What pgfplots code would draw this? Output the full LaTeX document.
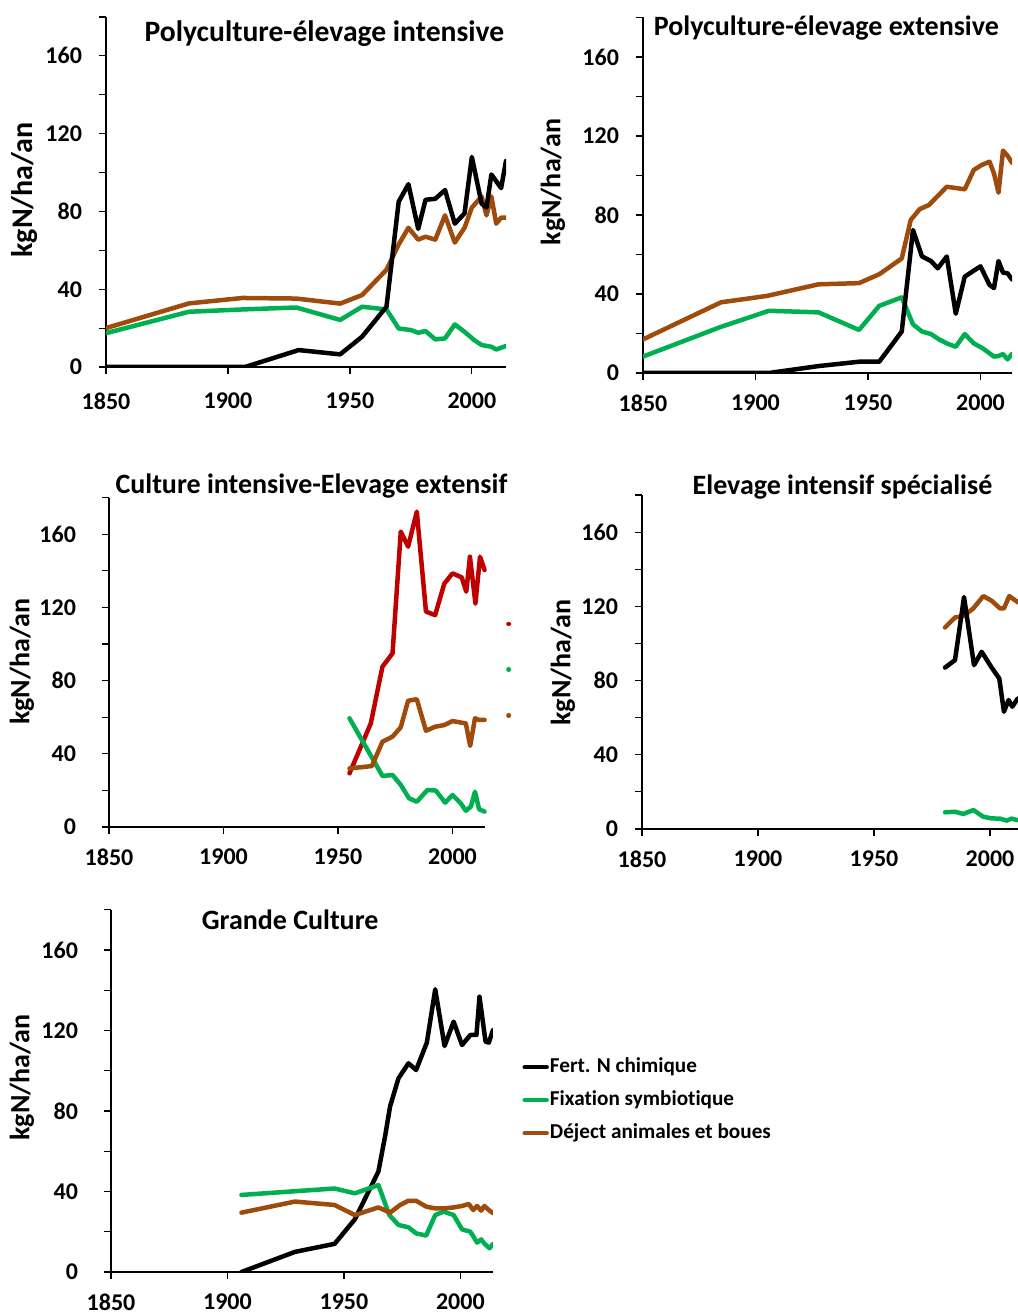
\documentclass[border=0pt]{standalone}
\usepackage{fontspec}
\setmainfont{Carlito}[Ligatures=NoCommon]
\usepackage{pgfplots}
\pgfplotsset{compat=1.18}
\definecolor{cgreen}{RGB}{0,176,80}
\definecolor{cbrown}{RGB}{158,75,12}
\definecolor{cred}{RGB}{192,0,0}
\pgfplotsset{
 panel/.style={
  scale only axis, xmin=1850, xmax=2014, ymin=0, ymax=180,
  axis lines=left, axis line style={-, line width=1pt},
  xtick={1850,1900,1950,2000}, ytick={0,40,...,160}, minor ytick={20,60,...,180},
  tick align=outside, major tick length=3.5pt, minor tick length=3.5pt,
  every tick/.style={line width=0.6pt, black},
  minor tick style={line width=0.6pt, black},
  xticklabel style={yshift=-4pt}, yticklabel style={xshift=-5pt},
  tick label style={font=\bfseries\fontsize{12}{14}\selectfont},
  /pgf/number format/assume math mode=true, /pgf/number format/1000 sep={},
  ylabel={kgN/ha/an},
  label style={font=\bfseries\fontsize{14}{16}\selectfont},
  every axis title shift=0pt,
  title style={font=\bfseries\fontsize{14}{16}\selectfont, anchor=center},
 },
 ser/.style={line width=2.25pt, line join=round, line cap=round, no markers},
 fert/.style={ser, black},
 fix/.style={ser, cgreen},
 dej/.style={ser, cbrown},
}
\begin{document}
\begin{tikzpicture}
\useasboundingbox (0,0) rectangle (509pt,656.5pt);
\clip (0,0) rectangle (509pt,656.5pt);

% Panel 1
\begin{axis}[panel, at={(53pt,473pt)}, anchor=south west, width=200pt, height=175pt,
  xticklabel style={yshift=-2pt},
  title={Polyculture-élevage intensive}, title style={at={(axis description cs:0.546,0.952)}, font=\bfseries\fontsize{14.8}{17}\selectfont},
  ylabel style={at={(axis description cs:-0.2025,0.506)}, anchor=center, font=\bfseries\fontsize{15}{17}\selectfont}]
\addplot[fix] coordinates {(1850,17.4)(1884,28.4)(1906,29.6)(1928,30.6)(1946,24.2)(1955,31)(1965,29.6)(1970,19.8)(1975,19)(1978,17.6)(1981,18.5)(1985,14.2)(1989,14.7)(1993,21.9)(1997,18.1)(2001,13.8)(2004,11.3)(2008,10.4)(2010,9)(2014,10.8)};
\addplot[dej] coordinates {(1850,20)(1884,32.7)(1906,35.5)(1928,35.2)(1946,32.6)(1955,37)(1965,50)(1970,63)(1974,71.6)(1978,65.5)(1981,67)(1985,65.5)(1989,78)(1993,64)(1997,71.6)(2000,82)(2004,87.7)(2006,78)(2008,87.7)(2010,73.7)(2012,76.8)(2014,76.8)};
\addplot[fert] coordinates {(1850,0)(1907,0)(1929,8.7)(1946,6.5)(1955,15.6)(1965,31)(1970,85)(1974,94)(1978,71)(1981,86)(1985,86.5)(1989,91)(1993,73.7)(1997,79)(2000,108)(2004,84)(2006,82)(2008,99)(2012,92)(2014,106)};
\end{axis}

% Panel 2
\begin{axis}[panel, at={(321.5pt,470pt)}, anchor=south west, width=184.5pt, height=177.75pt,
  title={Polyculture-élevage extensive}, title style={at={(axis description cs:0.497,0.971)}},
  ylabel style={at={(axis description cs:-0.244,0.537)}, anchor=center}]
\addplot[fix] coordinates {(1850,8.3)(1884.7,23.4)(1906,31.5)(1928,30.7)(1946,21.8)(1955,34)(1965,38.3)(1970,24.6)(1974,21)(1978,19.7)(1981.6,17)(1985.6,14.7)(1989,13.3)(1993,19.7)(1997,15)(2001,12.5)(2006,8.3)(2008,8.6)(2010,9.6)(2012,6.9)(2014,9.6)};
\addplot[dej] coordinates {(1850,17)(1884.7,35.8)(1905,39)(1928,44.9)(1946,45.5)(1955,50)(1965,58)(1969,77.5)(1973,83)(1977,85)(1981,89.6)(1985,94.3)(1993,93)(1997,102.8)(2000.5,105.3)(2004,107)(2006,101)(2008,91.3)(2010,112.6)(2012,110)(2014,106.5)};
\addplot[fert] coordinates {(1850,0)(1906,0)(1928,3.5)(1946,5.7)(1955,5.7)(1965,21)(1970,72.4)(1974,59)(1978,56.7)(1981,53)(1985,59)(1989,30)(1993,48.8)(1997,51.8)(2000,54)(2004,44.6)(2006,43)(2008,56.7)(2010,50.8)(2012,50.5)(2014,47.4)};
\end{axis}

% Panel 3
\begin{axis}[panel, at={(54.5pt,243pt)}, anchor=south west, width=187.8pt, height=164.7pt, clip=false,
  yticklabel style={xshift=-4.5pt},
  title={Culture intensive-Elevage extensif}, title style={at={(axis description cs:0.539,1.035)}},
  ylabel style={at={(axis description cs:-0.2316,0.502)}, anchor=center}]
\addplot[ser, cred] coordinates {(1955,29.3)(1964.3,56.6)(1969.4,87.6)(1973.8,94.9)(1977.4,161.4)(1980.6,153.2)(1984.4,172.3)(1988.4,117.7)(1992.4,115.8)(1996.4,133)(2000,138.6)(2004,136.4)(2006,128.6)(2007.6,147.7)(2010,122.2)(2012,147.7)(2014,140.4)};
\addplot[fix] coordinates {(1955,59.4)(1969.4,27.9)(1973.8,28.4)(1977.4,23)(1981,15.7)(1984.4,13.8)(1989,20.2)(1992.7,19.9)(1996.8,13.3)(2000,17.5)(2003.6,12.9)(2005.8,8.9)(2008,11.1)(2009.8,19.3)(2011.6,9.7)(2014,8.4)};
\addplot[dej] coordinates {(1955,32)(1964.8,33.3)(1969.4,46.6)(1973.8,49.4)(1977.4,54.5)(1980.6,69)(1984.4,69.8)(1988.4,52.6)(1992.4,54.8)(1996.4,55.7)(2000,57.9)(2004,57)(2005.8,56.6)(2007.7,44.3)(2009.8,59.4)(2011.6,58.5)(2014,58.5)};
\addplot[ser, cred] coordinates {(2024.4,111)(2024.6,111)};
\addplot[fix] coordinates {(2024.4,86)(2024.6,86)};
\addplot[dej] coordinates {(2024.4,61)(2024.6,61)};
\end{axis}

% Panel 4
\begin{axis}[panel, at={(321pt,242pt)}, anchor=south west, width=190.25pt, height=167pt,
  title={Elevage intensif spécialisé}, title style={at={(axis description cs:0.527,1.024)}},
  ylabel style={at={(axis description cs:-0.2076,0.4985)}, anchor=center}]
\addplot[fix] coordinates {(1980.6,9)(1984.9,9.3)(1988.5,8.1)(1992.8,10.2)(1997.1,6.6)(2000.7,5.7)(2004.3,5.6)(2007.2,4.5)(2009.3,5.6)(2011.8,4.8)(2014,5)};
\addplot[dej] coordinates {(1980.6,108.6)(1984.9,114)(1988.5,114.7)(1992.8,118.9)(1997.1,125.5)(2000.7,123)(2004.3,118.9)(2006,118.9)(2008.3,125.5)(2011.8,122.4)(2014,121)};
\addplot[fert] coordinates {(1980.6,87)(1984.9,91)(1988.8,125)(1993.1,88.3)(1996.4,95.5)(2000.7,87)(2004,81.1)(2006,63.2)(2008,69.5)(2009.6,65.9)(2012,70.4)(2014,70)};
\end{axis}

% Panel 5
\begin{axis}[panel, at={(55.5pt,20.5pt)}, anchor=south west, width=191pt, height=181.1pt,
  yticklabel style={xshift=-4.5pt},
  title={Grande Culture}, title style={at={(axis description cs:0.469,0.972)}},
  ylabel style={at={(axis description cs:-0.233,0.537)}, anchor=center},
  legend style={at={(axis description cs:1.076,0.4745)}, anchor=west, draw=none, fill=none,
    inner sep=0pt, row sep=5.7pt, nodes={inner sep=0.5pt, text height=7.5pt, text depth=2.3pt},
    font=\bfseries\fontsize{10.6}{12}\selectfont},
  legend cell align=left,
  legend image code/.code={\draw[#1, line width=2.25pt, line cap=round] (0pt,0pt) -- (11pt,0pt);}]
\addplot[fert] coordinates {(1906,0)(1929,10)(1946,14)(1954.7,26.2)(1964.8,49.9)(1967.7,67.6)(1969.8,82.2)(1973.4,96.2)(1977.7,103.7)(1981,100.4)(1985.6,114)(1989.2,140.5)(1993.2,112.3)(1997.1,124.4)(2000.7,112.8)(2004.3,117.8)(2006.9,117.8)(2008.2,136.8)(2010.8,114.5)(2012.2,114)(2014,120.2)};
\addlegendentry{Fert. N chimique}
\addplot[fix] coordinates {(1906,38.3)(1946,41.5)(1954.7,39.1)(1964.8,43.2)(1969.5,28.3)(1973.4,23.4)(1977.7,22.2)(1981,19.2)(1985.3,18.1)(1989.2,28.3)(1992.8,30)(1997.1,28.3)(2000.7,21.2)(2004.3,20)(2007.2,14.6)(2008.9,16.2)(2010.5,13.9)(2012.5,11.8)(2014,13.9)};
\addlegendentry{Fixation symbiotique}
\addplot[dej] coordinates {(1906,29.5)(1929,35)(1946,33.3)(1954.7,28.3)(1964.8,32.1)(1969.8,29.5)(1974.1,33.3)(1977.7,35.4)(1981,35.4)(1985.3,32.5)(1989.2,31.6)(1992.8,31.6)(1997.1,32.1)(2000.7,32.8)(2003.6,33.8)(2005.5,30.8)(2007.2,32.8)(2008.9,30.5)(2010.3,32.8)(2012.2,30.8)(2014,29.2)};
\addlegendentry{Déject animales et boues}
\end{axis}
\end{tikzpicture}
\end{document}
